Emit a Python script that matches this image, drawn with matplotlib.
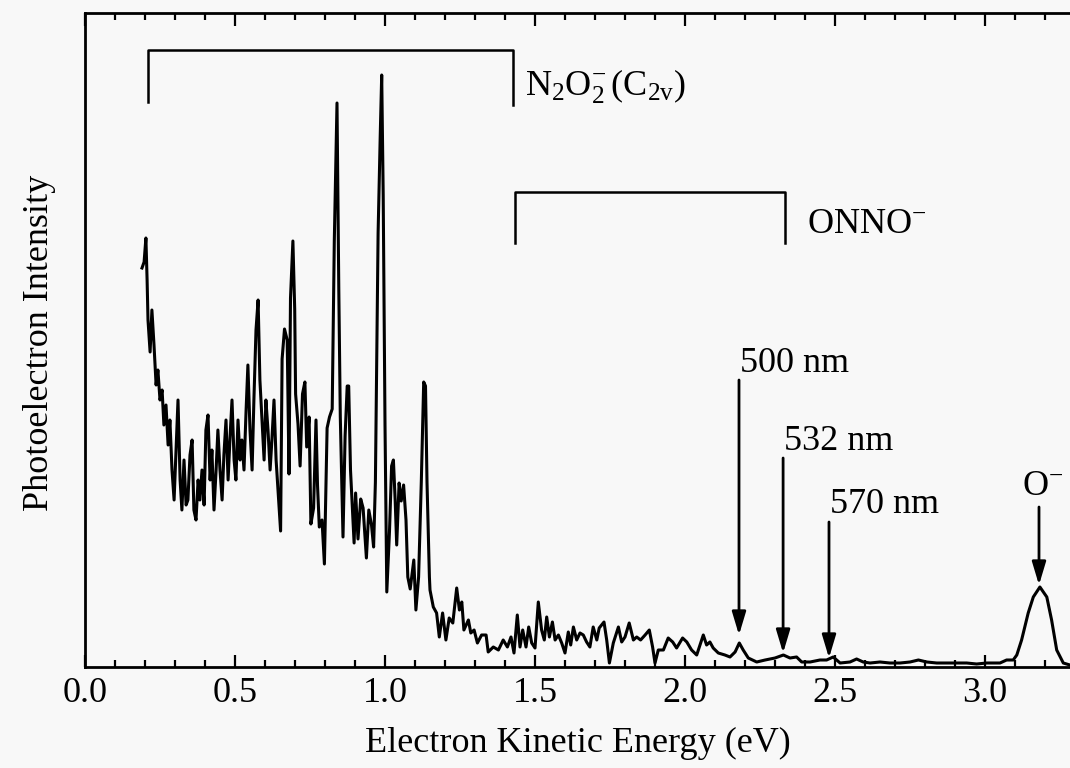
import matplotlib
matplotlib.use("Agg")
import matplotlib.pyplot as plt
from matplotlib.ticker import MultipleLocator, FormatStrFormatter

# Photoelectron spectrum: electron kinetic energy (eV) vs. intensity (arb. units)
energy = [
    0.190, 0.197, 0.203, 0.207, 0.210, 0.217, 0.223, 0.230, 0.237, 0.243,
    0.250, 0.257, 0.263, 0.270, 0.277, 0.283, 0.290, 0.297, 0.303, 0.310,
    0.317, 0.323, 0.330, 0.337, 0.343, 0.350, 0.357, 0.363, 0.370, 0.377,
    0.383, 0.390, 0.397, 0.403, 0.410, 0.417, 0.423, 0.430, 0.437, 0.443,
    0.450, 0.457, 0.463, 0.470, 0.477, 0.483, 0.490, 0.497, 0.503, 0.510,
    0.517, 0.523, 0.530, 0.537, 0.543, 0.550, 0.557, 0.563, 0.570, 0.577,
    0.583, 0.590, 0.597, 0.603, 0.610, 0.617, 0.623, 0.630, 0.637,
    0.652, 0.657, 0.665, 0.674, 0.680, 0.685, 0.693, 0.699, 0.702, 0.710,
    0.717, 0.725, 0.733, 0.739, 0.747, 0.753, 0.762, 0.770, 0.775, 0.781,
    0.790, 0.798, 0.807, 0.815, 0.824, 0.831, 0.840, 0.846, 0.851, 0.860,
    0.867, 0.874, 0.879, 0.885, 0.897, 0.902, 0.910, 0.919, 0.927, 0.938,
    0.946, 0.955, 0.962, 0.968, 0.977, 0.984, 0.989, 0.994, 1.000, 1.006,
    1.015, 1.022, 1.028, 1.034, 1.039, 1.047, 1.054, 1.062, 1.070, 1.076,
    1.084, 1.096, 1.103, 1.112, 1.121, 1.129, 1.135, 1.140, 1.148,
    1.150, 1.161, 1.172, 1.181, 1.192, 1.203, 1.214, 1.226, 1.239, 1.248,
    1.256, 1.263, 1.278, 1.286, 1.297, 1.308, 1.322, 1.337, 1.344, 1.361,
    1.378, 1.394, 1.408, 1.420, 1.430, 1.441, 1.450, 1.459, 1.470, 1.479,
    1.489, 1.500, 1.511, 1.522, 1.531, 1.539, 1.548, 1.558, 1.567, 1.578,
    1.589, 1.600, 1.611, 1.619, 1.628, 1.639, 1.650, 1.661, 1.672, 1.683,
    1.694, 1.706, 1.714, 1.730, 1.739, 1.748, 1.761, 1.778, 1.789, 1.800,
    1.814, 1.828, 1.839, 1.852, 1.867, 1.881, 1.892, 1.900, 1.911, 1.928,
    1.944, 1.959, 1.972, 1.992, 2.006, 2.022, 2.039, 2.061, 2.072, 2.083,
    2.094, 2.111, 2.133, 2.150, 2.167, 2.181, 2.194, 2.211, 2.239, 2.267,
    2.300, 2.328, 2.350, 2.372, 2.389, 2.417, 2.450, 2.472, 2.494, 2.517,
    2.550, 2.572, 2.594, 2.617, 2.650, 2.683, 2.717, 2.750, 2.778, 2.806,
    2.839, 2.872, 2.906, 2.939, 2.972, 3.006, 3.050, 3.072, 3.094, 3.106,
    3.122, 3.144, 3.161, 3.183, 3.206, 3.222, 3.239, 3.261, 3.283,
]
intensity = [
    399, 405, 429, 387, 347, 315, 357, 322, 282, 297,
    267, 277, 242, 262, 222, 247, 197, 167, 212, 267,
    187, 157, 207, 162, 167, 212, 227, 157, 147, 187,
    167, 197, 162, 237, 252, 187, 217, 157, 197, 237,
    197, 167, 212, 247, 187, 227, 267, 207, 187, 247,
    207, 227, 197, 257, 302, 237, 197, 267, 337, 367,
    287, 247, 207, 267, 237, 197, 227, 267, 207,
    136, 308, 338, 327, 193, 369, 426, 358, 273, 243,
    201, 273, 285, 220, 250, 143, 159, 247, 182, 140,
    147, 103, 239, 250, 258, 426, 564, 377, 250, 130,
    231, 281, 281, 197, 124, 174, 128, 168, 159, 109,
    157, 142, 120, 185, 434, 530, 592, 472, 243, 75,
    136, 201, 207, 166, 122, 184, 166, 182, 147, 90,
    78, 107, 57, 90, 185, 285, 281, 185, 90,
    77, 60, 54, 30, 54, 27, 49, 44, 79, 57,
    65, 37, 47, 34, 37, 24, 32, 32, 15, 20,
    17, 27, 20, 30, 14, 52, 20, 37, 20, 40,
    24, 19, 65, 37, 27, 50, 30, 45, 27, 32,
    24, 14, 35, 22, 40, 27, 34, 32, 25, 20,
    40, 27, 39, 45, 27, 4, 24, 40, 25, 30,
    44, 27, 30, 27, 32, 37, 20, 4, 17, 17,
    29, 25, 19, 29, 25, 17, 12, 32, 22, 25,
    19, 14, 12, 10, 15, 24, 17, 9, 5, 7,
    9, 12, 9, 10, 5, 5, 7, 7, 10, 4,
    5, 8, 5, 4, 5, 4, 4, 5, 7, 5,
    4, 4, 4, 4, 3, 4, 4, 7, 7, 12,
    27, 54, 70, 80, 70, 47, 17, 4, 2,
]

# Vibrational progression brackets (energy span)
n2o2_span = [0.209, 1.427]
onno_span = [1.433, 2.333]

# Photon-energy cutoffs marked by arrows
cutoff_labels = ["500 nm", "532 nm", "570 nm"]
cutoff_energy = [2.180, 2.327, 2.480]
cutoff_tip = [32, 14, 9]
cutoff_tail = [287, 209, 145]

o_minus_energy = 3.180

plt.rcParams["font.family"] = ["Liberation Serif", "DejaVu Serif"]
plt.rcParams["mathtext.fontset"] = "custom"
plt.rcParams["mathtext.rm"] = "Liberation Serif"
plt.rcParams["mathtext.it"] = "Liberation Serif:italic"
plt.rcParams["mathtext.bf"] = "Liberation Serif:bold"

W, H = 1070, 768
bg = "#f8f8f8"
fig = plt.figure(figsize=(W / 100, H / 100), dpi=100, facecolor=bg)
ax = fig.add_axes([85 / W, 1 - 667 / H, 985 / W, 654 / H], facecolor=bg)

ax.plot(energy, intensity, color="black", lw=2.2, solid_joinstyle="round")

ax.set_xlim(0, 985 / 300)
ax.set_ylim(0, 654)

for side in ("left", "top", "bottom"):
    ax.spines[side].set_linewidth(2.0)
ax.spines["right"].set_visible(False)

ax.xaxis.set_major_locator(MultipleLocator(0.5))
ax.xaxis.set_minor_locator(MultipleLocator(0.1))
ax.xaxis.set_major_formatter(FormatStrFormatter("%.1f"))
ax.tick_params(axis="x", which="both", direction="in", top=True, width=1.6,
               labelsize=26, pad=7)
ax.tick_params(axis="x", which="major", length=9)
ax.tick_params(axis="x", which="minor", length=5)
ax.set_yticks([])

ax.set_xlabel("Electron Kinetic Energy (eV)", fontsize=26)
ax.xaxis.set_label_coords(0.5, -0.092)
ax.set_ylabel("Photoelectron Intensity", fontsize=26)
ax.yaxis.set_label_coords(-0.029, 0.495)

# Brackets
ax.plot([n2o2_span[0], n2o2_span[0], n2o2_span[1], n2o2_span[1]],
        [565, 617, 617, 562], color="black", lw=1.8)
ax.text(1.467, 572, r"N$_2$O$_2^{-}\,$(C$_{2\mathrm{v}}$)", fontsize=26,
        ha="left", va="baseline")
ax.plot([onno_span[0], onno_span[0], onno_span[1], onno_span[1]],
        [424, 475, 475, 424], color="black", lw=1.8)
ax.text(2.407, 434, r"ONNO$^{-}$", fontsize=26, ha="left", va="baseline")

arrow_kw = dict(arrowstyle="-|>,head_length=1.0,head_width=0.3",
                mutation_scale=14, color="black", lw=2.0,
                shrinkA=0, shrinkB=0)
label_base = [295, 217, 154]
for lab, e, tip, tail, base in zip(cutoff_labels, cutoff_energy, cutoff_tip,
                                   cutoff_tail, label_base):
    ax.annotate("", xy=(e, tip), xytext=(e, tail), arrowprops=arrow_kw)
    ax.text(e + 0.003, base, lab, fontsize=26, ha="left", va="baseline")

ax.annotate("", xy=(o_minus_energy, 82), xytext=(o_minus_energy, 160),
            arrowprops=arrow_kw)
ax.text(3.123, 172, r"O$^{-}$", fontsize=26, ha="left", va="baseline")

fig.savefig("out.png", dpi=100, facecolor=bg)
